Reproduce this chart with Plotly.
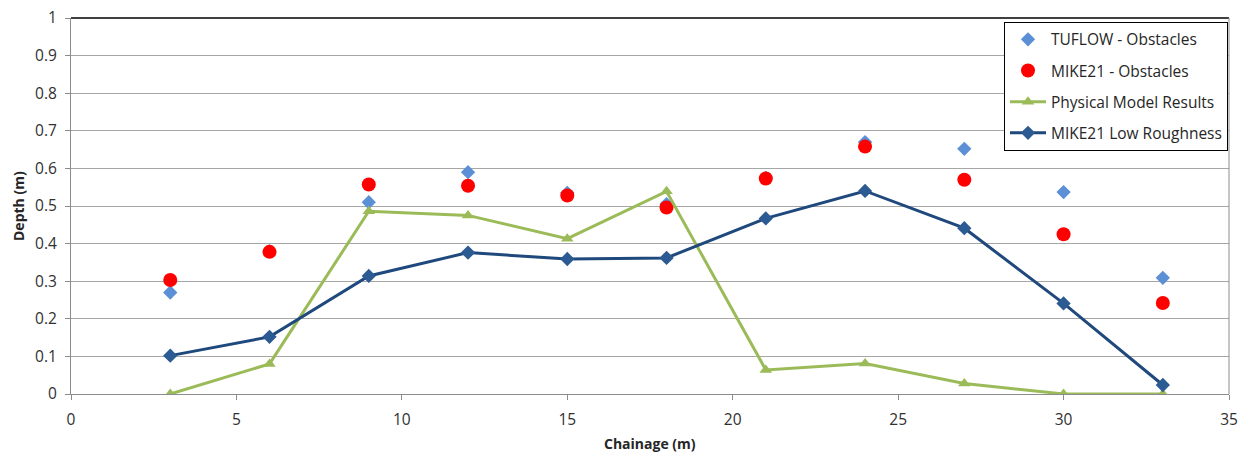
import plotly.graph_objects as go

chainage = [3, 6, 9, 12, 15, 18, 21, 24, 27, 30, 33]
tuflow_obstacles = [0.27, 0.38, 0.51, 0.59, 0.535, 0.505, 0.575, 0.67, 0.652, 0.537, 0.309]
mike21_obstacles = [0.303, 0.378, 0.557, 0.554, 0.528, 0.496, 0.573, 0.658, 0.570, 0.425, 0.242]
physical_model = [0.0, 0.080, 0.486, 0.475, 0.413, 0.539, 0.064, 0.081, 0.028, 0.0, 0.0]
mike21_low_rough = [0.102, 0.152, 0.314, 0.376, 0.359, 0.362, 0.467, 0.540, 0.441, 0.241, 0.024]

x_ticks = [0, 5, 10, 15, 20, 25, 30, 35]
y_ticks = [0, 0.1, 0.2, 0.3, 0.4, 0.5, 0.6, 0.7, 0.8, 0.9, 1]

FONT = "Open Sans, Liberation Sans, Arial, sans-serif"

fig = go.Figure()
fig.add_trace(go.Scatter(
    x=chainage, y=tuflow_obstacles, mode="markers", name="TUFLOW - Obstacles",
    marker=dict(symbol="diamond", size=11, color="#5B8FD6"), legendgroup="a"))
fig.add_trace(go.Scatter(
    x=chainage, y=mike21_obstacles, mode="markers", name="MIKE21 - Obstacles",
    marker=dict(symbol="circle", size=14, color="#FF0000"), legendgroup="b"))
fig.add_trace(go.Scatter(
    x=chainage, y=physical_model, mode="lines+markers", name="Physical Model Results",
    line=dict(color="#9BBB59", width=3),
    marker=dict(symbol="triangle-up", size=11, color="#9BBB59"), legendgroup="c"))
fig.add_trace(go.Scatter(
    x=chainage, y=mike21_low_rough, mode="lines+markers", name="MIKE21 Low Roughness",
    line=dict(color="#1F497D", width=3),
    marker=dict(symbol="diamond", size=11, color="#2C5A92"), legendgroup="d"))

fig.update_layout(
    width=1247, height=454,
    margin=dict(l=71, r=18, t=18, b=60),
    paper_bgcolor="white", plot_bgcolor="white",
    font=dict(family=FONT, size=14, color="#303030"),
    showlegend=True,
    legend=dict(
        x=0.8057, y=0.99, xanchor="left", yanchor="top",
        bgcolor="white", bordercolor="#000000", borderwidth=1,
        font=dict(family=FONT, size=15.5, color="#262626"),
        tracegroupgap=8, traceorder="grouped", itemwidth=36,
    ),
    xaxis=dict(
        range=[0, 35], tickvals=x_ticks, ticktext=[str(v) for v in x_ticks],
        showgrid=False, zeroline=False, automargin=False,
        showline=True, linecolor="#8C8C8C", linewidth=1,
        ticks="outside", ticklen=5, tickcolor="#8C8C8C",
        ticklabelstandoff=6,
        tickfont=dict(size=15.5, color="#303030"),
    ),
    yaxis=dict(
        range=[0, 1], tickvals=y_ticks, ticktext=[f"{v:g}" for v in y_ticks],
        showgrid=True, gridcolor="#A6A6A6", gridwidth=1, zeroline=False, automargin=False,
        showline=True, linecolor="#8C8C8C", linewidth=1,
        ticks="outside", ticklen=5, tickcolor="#8C8C8C",
        ticklabelstandoff=5,
        tickfont=dict(size=15.5, color="#303030"),
    ),
    annotations=[
        dict(text="<b>Chainage (m)</b>", xref="paper", yref="paper", x=0.5, y=0,
             yshift=-49, xanchor="center", yanchor="middle", showarrow=False,
             font=dict(size=14, color="#262626")),
        dict(text="<b>Depth (m)</b>", xref="paper", yref="paper", x=0, y=0.5,
             xshift=-53, xanchor="center", yanchor="middle", showarrow=False,
             textangle=-90, font=dict(size=14, color="#262626")),
    ],
)

# plot-area border: dark top edge, grey right edge
fig.add_shape(type="line", xref="paper", yref="paper", x0=0, x1=1, y0=1, y1=1,
              line=dict(color="#000000", width=1.5))
fig.add_shape(type="line", xref="paper", yref="paper", x0=1, x1=1, y0=0, y1=1,
              line=dict(color="#8C8C8C", width=1))

fig.write_html("out.html")
